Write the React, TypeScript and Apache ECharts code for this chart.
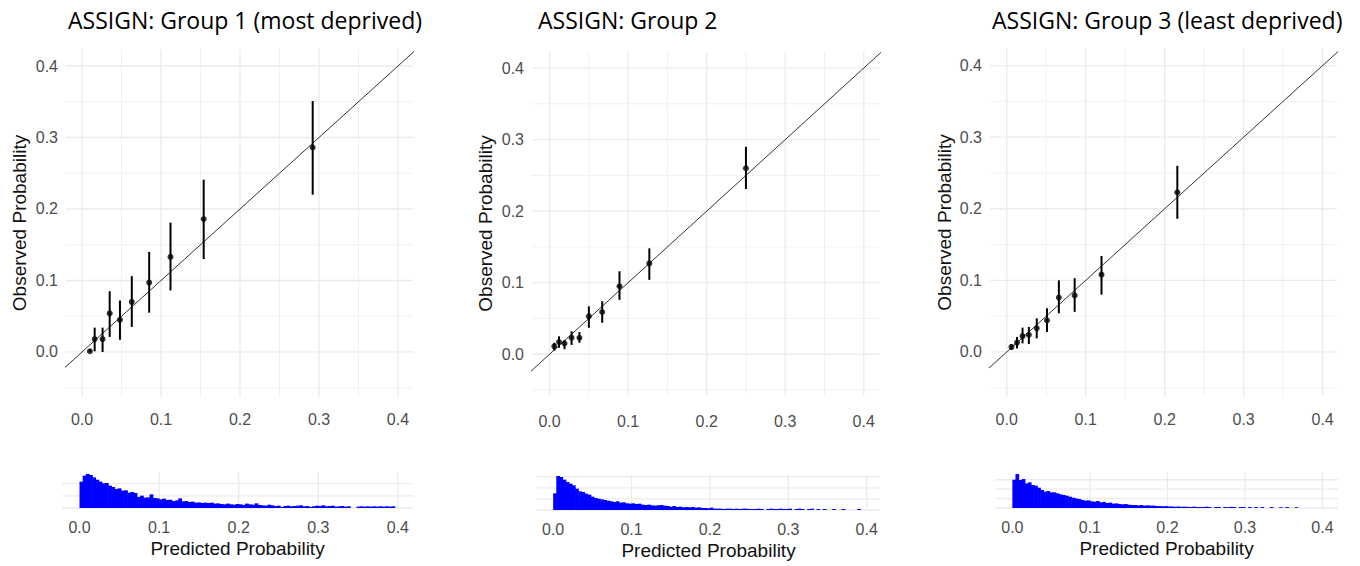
import React, { useEffect, useRef } from "react";
import * as echarts from "echarts";

// ---------------- DATA ----------------
const PANEL_TITLES = [
  "ASSIGN: Group 1 (most deprived)",
  "ASSIGN: Group 2",
  "ASSIGN: Group 3 (least deprived)",
];
const Y_NAME = "Observed Probability";
const X_NAME = "Predicted Probability";

const TICK_VALUES = [0, 0.1, 0.2, 0.3, 0.4];
const MINOR_X = [0.05, 0.15, 0.25, 0.35];
const MINOR_Y = [-0.05, 0.05, 0.15, 0.25, 0.35];
const HIST_MAJOR_X = [0.1, 0.2, 0.3, 0.4];
const HIST_GRID_Y = [0, 100, 200, 300];
const DIAGONAL = [-0.1, 0.5];
const BIN_WIDTH = 0.004;

// Group 1 calibration points
const G1_PRED = [0.010, 0.016, 0.026, 0.035, 0.048, 0.063, 0.085, 0.112, 0.154, 0.292];
const G1_OBS = [0.001, 0.018, 0.018, 0.054, 0.045, 0.070, 0.097, 0.133, 0.186, 0.286];
const G1_LO = [0.000, 0.001, 0.000, 0.021, 0.017, 0.035, 0.055, 0.086, 0.130, 0.220];
const G1_HI = [0.004, 0.034, 0.034, 0.085, 0.072, 0.106, 0.140, 0.181, 0.241, 0.351];

// Group 2 calibration points
const G2_PRED = [0.006, 0.012, 0.019, 0.028, 0.038, 0.050, 0.067, 0.089, 0.127, 0.250];
const G2_OBS = [0.011, 0.017, 0.015, 0.023, 0.023, 0.053, 0.059, 0.095, 0.127, 0.260];
const G2_LO = [0.005, 0.009, 0.007, 0.013, 0.016, 0.037, 0.044, 0.076, 0.104, 0.231];
const G2_HI = [0.016, 0.025, 0.020, 0.032, 0.031, 0.067, 0.074, 0.116, 0.148, 0.290];

// Group 3 calibration points
const G3_PRED = [0.006, 0.013, 0.020, 0.028, 0.038, 0.051, 0.066, 0.086, 0.120, 0.216];
const G3_OBS = [0.007, 0.013, 0.022, 0.024, 0.033, 0.044, 0.076, 0.079, 0.108, 0.223];
const G3_LO = [0.003, 0.005, 0.012, 0.011, 0.019, 0.028, 0.054, 0.056, 0.080, 0.186];
const G3_HI = [0.011, 0.021, 0.034, 0.035, 0.047, 0.061, 0.100, 0.103, 0.134, 0.260];

// Histogram counts of predicted probability (bins of 0.004 starting at 0)
const G1_HIST = [
  216, 265, 279, 270, 251, 232, 216, 202, 205, 183,
  172, 156, 161, 142, 145, 126, 131, 123, 90, 101,
  85, 87, 112, 82, 79, 71, 77, 66, 68, 57,
  63, 79, 55, 57, 49, 52, 44, 46, 41, 44,
  41, 44, 36, 38, 33, 30, 36, 30, 27, 33,
  30, 25, 36, 30, 27, 38, 25, 22, 19, 27,
  22, 16, 19, 8, 16, 19, 14, 16, 19, 22,
  14, 16, 8, 14, 19, 16, 22, 14, 16, 19,
  11, 14, 16, 11, 14, 0, 0, 11, 14, 11,
  14, 11, 14, 11, 14, 11, 14, 11, 14, 0,
];
const G2_HIST = [
  150, 306, 297, 273, 252, 237, 222, 192, 168, 162,
  147, 138, 120, 108, 102, 96, 90, 84, 78, 72,
  78, 66, 69, 60, 57, 60, 54, 57, 48, 45,
  48, 42, 39, 42, 45, 39, 36, 30, 36, 27,
  30, 24, 27, 24, 27, 21, 24, 18, 18, 15,
  21, 12, 12, 12, 9, 12, 12, 9, 12, 9,
  12, 12, 9, 9, 9, 12, 9, 0, 9, 12,
  9, 9, 12, 9, 9, 12, 0, 9, 12, 9,
  0, 9, 12, 0, 9, 0, 9, 0, 0, 9,
  0, 0, 9, 0, 0, 0, 0, 9, 0, 0,
];
const G3_HIST = [
  300, 360, 297, 307, 261, 272, 244, 237, 216, 191,
  173, 180, 166, 166, 155, 145, 138, 131, 120, 110,
  102, 95, 85, 78, 81, 71, 67, 74, 60, 64,
  53, 57, 46, 49, 42, 39, 42, 35, 32, 32,
  28, 32, 25, 28, 25, 25, 21, 20, 18, 20,
  16, 16, 12, 16, 12, 14, 12, 10, 14, 10,
  10, 10, 14, 10, 0, 10, 10, 0, 10, 8,
  12, 10, 0, 10, 10, 0, 10, 0, 10, 0,
  10, 0, 0, 10, 0, 0, 8, 0, 10, 0,
  0, 8, 0, 0, 0, 0, 0, 0, 0, 0,
];

// ---------------- LAYOUT ----------------
const FONT = "'Liberation Sans', Arial, sans-serif";
const TITLE_FONT = "'Open Sans', 'Noto Sans', sans-serif";
const LABEL_COLOR = "#4D4D4D";
const GRID_COLOR = "#EBEBEB";
const MINOR_COLOR = "#F1F1F1";

const PANELS = [
  {
    title: { left: 68, top: 8 },
    main: { left: 66, top: 49, width: 347, height: 348, xMin: -0.0203, xMax: 0.419, yMin: -0.063, yMax: 0.4238, labelMargin: 14, nameGap: 37 },
    hist: { left: 62, top: 472, width: 351, height: 36, xMin: -0.022, xMax: 0.419, yMax: 295, labelMargin: 11, nameGap: 31 },
  },
  {
    title: { left: 538, top: 8 },
    main: { left: 532, top: 52, width: 348, height: 343, xMin: -0.0224, xMax: 0.4207, yMin: -0.057, yMax: 0.4225, labelMargin: 18, nameGap: 37 },
    hist: { left: 537, top: 475, width: 343, height: 35, xMin: -0.0206, xMax: 0.417, yMax: 315, labelMargin: 11, nameGap: 31 },
  },
  {
    title: { left: 992, top: 8 },
    main: { left: 990, top: 48, width: 347, height: 349, xMin: -0.0212, xMax: 0.4182, yMin: -0.0629, yMax: 0.4245, labelMargin: 14, nameGap: 36 },
    hist: { left: 995, top: 472, width: 343, height: 36, xMin: -0.0224, xMax: 0.42, yMax: 382, labelMargin: 11, nameGap: 31 },
  },
];

const GROUPS = [
  { pred: G1_PRED, obs: G1_OBS, lo: G1_LO, hi: G1_HI, hist: G1_HIST },
  { pred: G2_PRED, obs: G2_OBS, lo: G2_LO, hi: G2_HI, hist: G2_HIST },
  { pred: G3_PRED, obs: G3_OBS, lo: G3_LO, hi: G3_HI, hist: G3_HIST },
];

function vLineSeries(xi: number, yi: number, values: number[], color: string, width: number) {
  return {
    type: "custom",
    xAxisIndex: xi,
    yAxisIndex: yi,
    z: 1,
    silent: true,
    encode: { x: 0, y: 1 },
    data: values.map((v) => [v, 0]),
    renderItem: (params: any, api: any) => {
      const cs = params.coordSys;
      const x = api.coord([api.value(0), 0])[0];
      return {
        type: "line",
        shape: { x1: x, y1: cs.y, x2: x, y2: cs.y + cs.height },
        style: { stroke: color, lineWidth: width },
      };
    },
  };
}

function hLineSeries(xi: number, yi: number, values: number[], color: string, width: number) {
  return {
    type: "custom",
    xAxisIndex: xi,
    yAxisIndex: yi,
    z: 1,
    silent: true,
    encode: { x: 0, y: 1 },
    data: values.map((v) => [0, v]),
    renderItem: (params: any, api: any) => {
      const cs = params.coordSys;
      const y = api.coord([0, api.value(1)])[1];
      return {
        type: "line",
        shape: { x1: cs.x, y1: y, x2: cs.x + cs.width, y2: y },
        style: { stroke: color, lineWidth: width },
      };
    },
  };
}

function buildOption() {
  const grid: any[] = [];
  const xAxis: any[] = [];
  const yAxis: any[] = [];
  const series: any[] = [];
  const title: any[] = [];

  PANELS.forEach((p, i) => {
    const g = GROUPS[i];
    const mi = i * 2;
    const hi = i * 2 + 1;

    title.push({
      text: PANEL_TITLES[i],
      left: p.title.left,
      top: p.title.top,
      padding: 0,
      textStyle: { fontFamily: TITLE_FONT, fontSize: 23, fontWeight: "normal", color: "#000" },
    });

    grid.push({ left: p.main.left, top: p.main.top, width: p.main.width, height: p.main.height, containLabel: false });
    grid.push({ left: p.hist.left, top: p.hist.top, width: p.hist.width, height: p.hist.height, containLabel: false });

    const labelStyle = {
      customValues: TICK_VALUES,
      formatter: (v: number) => v.toFixed(1),
      color: LABEL_COLOR,
      fontSize: 16,
      fontFamily: FONT,
    };

    xAxis.push({
      type: "value",
      gridIndex: mi,
      min: p.main.xMin,
      max: p.main.xMax,
      axisLine: { show: false },
      axisTick: { show: false },
      splitLine: { show: false },
      axisLabel: { ...labelStyle, margin: p.main.labelMargin },
    });
    yAxis.push({
      type: "value",
      gridIndex: mi,
      min: p.main.yMin,
      max: p.main.yMax,
      axisLine: { show: false },
      axisTick: { show: false },
      splitLine: { show: false },
      axisLabel: { ...labelStyle, margin: 8 },
      name: Y_NAME,
      nameLocation: "middle",
      nameGap: p.main.nameGap,
      nameTextStyle: { fontFamily: FONT, fontSize: 19, color: "#111" },
    });

    xAxis.push({
      type: "value",
      gridIndex: hi,
      min: p.hist.xMin,
      max: p.hist.xMax,
      axisLine: { show: false },
      axisTick: { show: false },
      splitLine: { show: false },
      axisLabel: { ...labelStyle, margin: p.hist.labelMargin },
      name: X_NAME,
      nameLocation: "middle",
      nameGap: p.hist.nameGap,
      nameTextStyle: { fontFamily: FONT, fontSize: 19, color: "#111" },
    });
    yAxis.push({
      type: "value",
      gridIndex: hi,
      min: 0,
      max: p.hist.yMax,
      axisLine: { show: false },
      axisTick: { show: false },
      splitLine: { show: false },
      axisLabel: { show: false },
    });

    // main gridlines
    series.push(vLineSeries(mi, mi, MINOR_X, MINOR_COLOR, 1));
    series.push(hLineSeries(mi, mi, MINOR_Y, MINOR_COLOR, 1));
    series.push(vLineSeries(mi, mi, TICK_VALUES, GRID_COLOR, 1.3));
    series.push(hLineSeries(mi, mi, TICK_VALUES, GRID_COLOR, 1.3));

    // diagonal reference line
    series.push({
      type: "line",
      xAxisIndex: mi,
      yAxisIndex: mi,
      z: 2,
      silent: true,
      symbol: "none",
      clip: true,
      data: DIAGONAL.map((v) => [v, v]),
      lineStyle: { color: "#333", width: 1 },
    });

    // error bars
    series.push({
      type: "custom",
      xAxisIndex: mi,
      yAxisIndex: mi,
      z: 3,
      silent: true,
      encode: { x: 0, y: [1, 2] },
      data: g.pred.map((x, k) => [x, g.lo[k], g.hi[k]]),
      renderItem: (params: any, api: any) => {
        const a = api.coord([api.value(0), api.value(1)]);
        const b = api.coord([api.value(0), api.value(2)]);
        return {
          type: "line",
          shape: { x1: a[0], y1: a[1], x2: b[0], y2: b[1] },
          style: { stroke: "#000", lineWidth: 2 },
        };
      },
    });

    // points
    series.push({
      type: "scatter",
      xAxisIndex: mi,
      yAxisIndex: mi,
      z: 4,
      silent: true,
      symbol: "circle",
      symbolSize: 6,
      itemStyle: { color: "#000" },
      data: g.pred.map((x, k) => [x, g.obs[k]]),
    });

    // histogram gridlines
    series.push(vLineSeries(hi, hi, HIST_MAJOR_X, GRID_COLOR, 1.3));
    series.push(hLineSeries(hi, hi, HIST_GRID_Y.filter((v) => v <= p.hist.yMax), GRID_COLOR, 1.3));

    // histogram bars
    series.push({
      type: "custom",
      xAxisIndex: hi,
      yAxisIndex: hi,
      z: 3,
      silent: true,
      encode: { x: [0, 1], y: 2 },
      data: g.hist.map((c, k) => [k * BIN_WIDTH, (k + 1) * BIN_WIDTH, c]),
      renderItem: (params: any, api: any) => {
        const c = api.value(2);
        if (!c) return null;
        const a = api.coord([api.value(0), c]);
        const b = api.coord([api.value(1), 0]);
        return {
          type: "rect",
          shape: { x: a[0], y: a[1], width: b[0] - a[0] + 0.6, height: b[1] - a[1] },
          style: { fill: "#0000FF" },
        };
      },
    });
  });

  return {
    animation: false,
    backgroundColor: "#fff",
    title,
    grid,
    xAxis,
    yAxis,
    series,
  };
}

export default function App() {
  const ref = useRef<HTMLDivElement>(null);
  useEffect(() => {
    document.body.style.margin = "0";
    if (!ref.current) return;
    const chart = echarts.init(ref.current, undefined, { renderer: "svg" });
    chart.setOption(buildOption() as any);
    return () => chart.dispose();
  }, []);
  return <div ref={ref} style={{ width: 1360, height: 566 }} />;
}
